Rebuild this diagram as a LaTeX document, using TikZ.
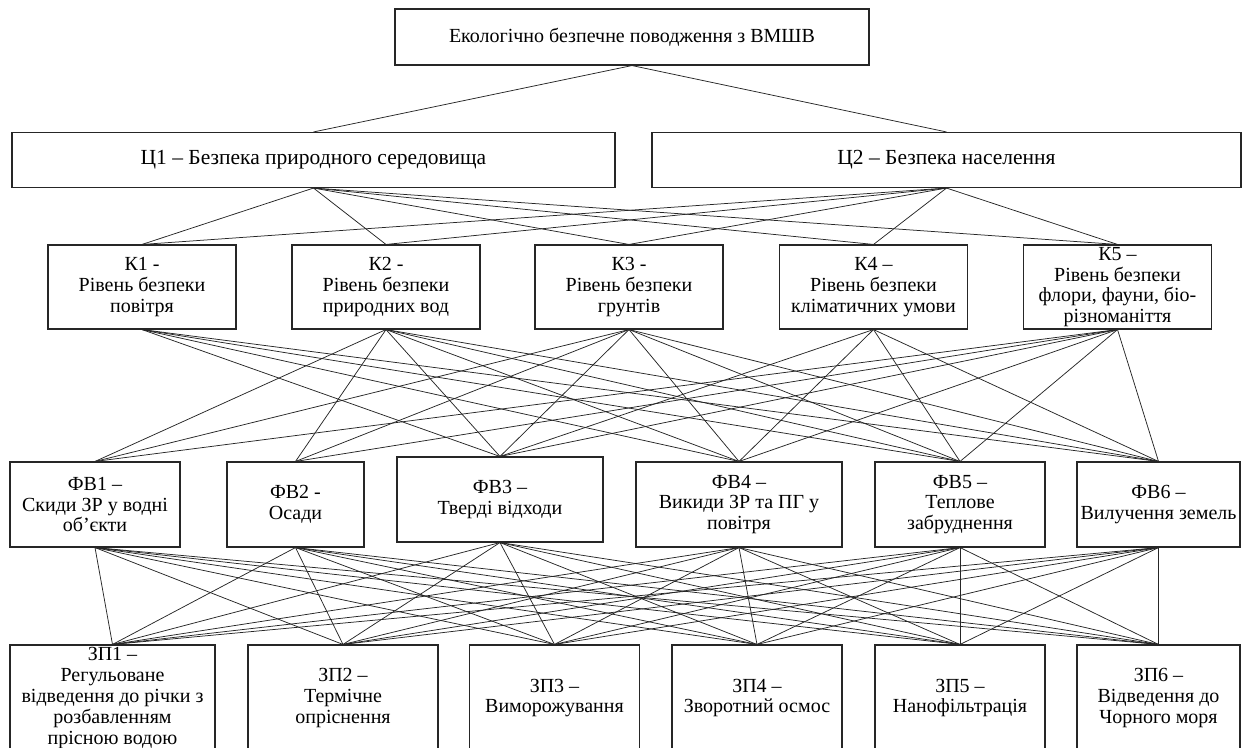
\documentclass[tikz,border=0pt]{standalone}
\usepackage{fontspec}
\setmainfont{Liberation Serif}
\tikzset{
  box/.style={draw=black!85, line width=1.1pt, align=center, inner sep=0pt,
    font=\fontsize{20}{20.8}\selectfont},
  link/.style={draw=black!85, line width=0.75pt},
}
\begin{document}
\begin{tikzpicture}[x=1pt, y=-1pt]
\useasboundingbox (0,0) rectangle (1247,747);
\clip (0,0) rectangle (1247,747);

% goal
\node[box, minimum width=474pt, minimum height=56pt] (t) at (632,37) {Екологічно безпечне поводження з ВМШВ};

% aims
\tikzset{cbox/.style={box, minimum height=55pt, font=\fontsize{21.5}{22}\selectfont}}
\node[cbox, minimum width=603pt] (c1) at (313.5,160) {Ц1 – Безпека природного середовища};
\node[cbox, minimum width=589pt] (c2) at (946.5,160) {Ц2 – Безпека населення};

% criteria
\tikzset{kbox/.style={box, minimum width=188pt, minimum height=84pt}}
\node[kbox] (k1) at (142,287) {К1 -\\Рівень безпеки\\повітря};
\node[kbox] (k2) at (386,287) {К2 -\\Рівень безпеки\\природних вод};
\node[kbox] (k3) at (629,287) {К3 -\\Рівень безпеки\\грунтів};
\node[kbox] (k4) at (873.5,287) {К4 –\\Рівень безпеки\\кліматичних умови};
\node[kbox] (k5) at (1117.5,287) {К5 –\\Рівень безпеки\\флори, фауни, біо-\\різноманіття};

% impact factors
\tikzset{fbox/.style={box, minimum height=85pt}}
\node[fbox, minimum width=170pt] (f1) at (95,504.5) {ФВ1 –\\Скиди ЗР у водні\\об’єкти};
\node[fbox, minimum width=137pt] (f2) at (295.5,504.5) {ФВ2 -\\Осади};
\node[fbox, minimum width=206pt] (f3) at (500,499.5) {ФВ3 –\\Тверді відходи};
\node[fbox, minimum width=206pt] (f4) at (739,504.5) {ФВ4 –\\Викиди ЗР та ПГ у\\повітря};
\node[fbox, minimum width=170pt] (f5) at (960,504.5) {ФВ5 –\\Теплове\\забруднення};
\node[fbox, minimum width=163pt] (f6) at (1158.5,504.5) {ФВ6 –\\Вилучення земель};

% management options
\tikzset{zbox/.style={box, minimum height=106pt}}
\node[zbox, minimum width=205pt] (z1) at (112.5,698) {ЗП1 –\\Регульоване\\відведення до річки з\\розбавленням\\прісною водою};
\node[zbox, minimum width=190pt] (z2) at (343,698) {ЗП2 –\\Термічне\\опріснення};
\node[zbox, minimum width=170pt] (z3) at (554.5,698) {ЗП3 –\\Виморожування};
\node[zbox, minimum width=170pt] (z4) at (757,698) {ЗП4 –\\Зворотний осмос};
\node[zbox, minimum width=170pt] (z5) at (960,698) {ЗП5 –\\Нанофільтрація};
\node[zbox, minimum width=163pt] (z6) at (1158.5,698) {ЗП6 –\\Відведення до\\Чорного моря};

% links
\draw[link] (t.south) -- (c1.north);
\draw[link] (t.south) -- (c2.north);
\foreach \c in {c1,c2}
  \foreach \k in {k1,k2,k3,k4,k5}
    \draw[link] (\c.south) -- (\k.north);
\foreach \k/\fl in {k1/{f3,f4,f5,f6}, k2/{f1,f2,f3,f4,f5,f6}, k3/{f1,f2,f3,f4,f5,f6},
                    k4/{f3,f4,f5,f6}, k5/{f1,f2,f3,f4,f5,f6}}
  \foreach \f in \fl
    \draw[link] (\k.south) -- (\f.north);
\foreach \f in {f1,f2,f3,f4,f5,f6}
  \foreach \z in {z1,z2,z3,z4,z5,z6}
    \draw[link] (\f.south) -- (\z.north);
\end{tikzpicture}
\end{document}
